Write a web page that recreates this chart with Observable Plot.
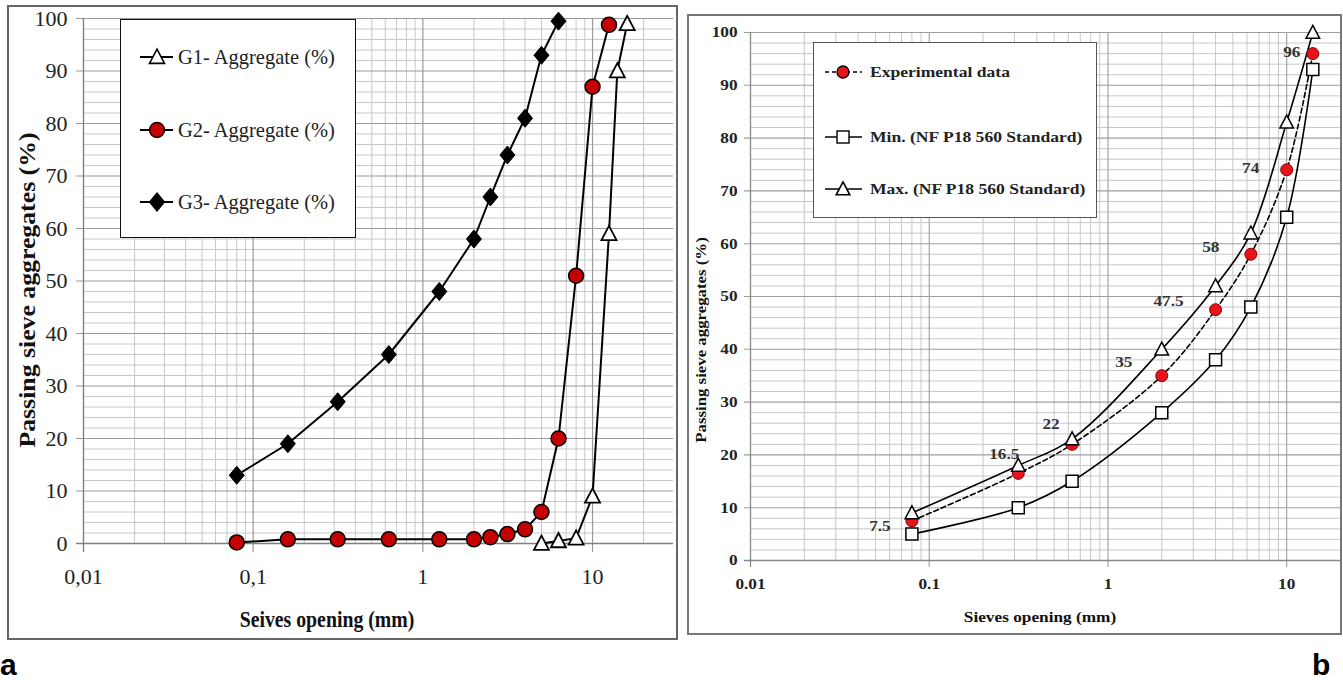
<!DOCTYPE html>
<html><head><meta charset="utf-8">
<script src="https://cdn.jsdelivr.net/npm/d3@7"></script>
<script src="https://cdn.jsdelivr.net/npm/@observablehq/plot@0.6"></script>
<style>
html,body{margin:0;padding:0;background:#fff;}
body{width:1343px;height:680px;position:relative;overflow:hidden;font-family:"Liberation Serif","Times New Roman",serif;color:#111;}
#root{position:absolute;left:0;top:0;width:1343px;height:680px;}
.frame{position:absolute;box-sizing:border-box;}
.t{position:absolute;white-space:nowrap;}
</style></head><body>
<div id="root"></div>
<script>
// ---------- DATA (chart a) ----------
const seriesA = ["G1- Aggregate (%)", "G2- Aggregate (%)", "G3- Aggregate (%)"];
const g1Sieves = [5, 6.3, 8, 10, 12.5, 14, 16];
const g1Values = [0, 0.5, 1, 9, 59, 90, 99];
const g2Sieves = [0.08, 0.16, 0.315, 0.63, 1.25, 2, 2.5, 3.15, 4, 5, 6.3, 8, 10, 12.5];
const g2Values = [0.2, 0.8, 0.8, 0.8, 0.8, 0.8, 1.2, 1.8, 2.7, 6, 20, 51, 87, 98.8];
const g3Sieves = [0.08, 0.16, 0.315, 0.63, 1.25, 2, 2.5, 3.15, 4, 5, 6.3];
const g3Values = [13, 19, 27, 36, 48, 58, 66, 74, 81, 93, 99.5];
const xTicksA = [0.01, 0.1, 1, 10];
const xTickLabelsA = ["0,01", "0,1", "1", "10"];

// ---------- DATA (chart b) ----------
const seriesB = ["Experimental data", "Min. (NF P18 560 Standard)", "Max. (NF P18 560 Standard)"];
const sievesB = [0.08, 0.315, 0.63, 2, 4, 6.3, 10, 14];
const expValues = [7.5, 16.5, 22, 35, 47.5, 58, 74, 96];
const minValues = [5, 10, 15, 28, 38, 48, 65, 93];
const maxValues = [9, 18, 23, 40, 52, 62, 83, 100];
const expLabels = ["7.5", "16.5", "22", "35", "47.5", "58", "74", "96"];
const xTicksB = [0.01, 0.1, 1, 10];
const xTickLabelsB = ["0.01", "0.1", "1", "10"];

const yTicks = [0, 10, 20, 30, 40, 50, 60, 70, 80, 90, 100];

// ---------- helpers ----------
const root = document.getElementById("root");
function rows(series, xs, ys) { return xs.map((x, i) => ({series, x, y: ys[i]})); }
function logMinor(lo, hi) {
  const out = [];
  for (let e = -3; e <= 2; e++) for (let m = 2; m <= 9; m++) {
    const v = +(m * Math.pow(10, e)).toPrecision(3);
    if (v > lo && v < hi) out.push(v);
  }
  return out;
}
const yMinor = d3.range(2, 100, 2).filter(v => v % 10 !== 0);

// custom marker shapes
const triSym = {draw(ctx, size) { const r = Math.sqrt(size / Math.PI); ctx.moveTo(0, -r * 1.05); ctx.lineTo(r, r * 0.85); ctx.lineTo(-r, r * 0.85); ctx.closePath(); }};
const diaSym = {draw(ctx, size) { const r = Math.sqrt(size / Math.PI); ctx.moveTo(0, -r * 1.2); ctx.lineTo(r, 0); ctx.lineTo(0, r * 1.2); ctx.lineTo(-r, 0); ctx.closePath(); }};
const sqSym = {draw(ctx, size) { const r = Math.sqrt(size / Math.PI); ctx.rect(-r, -r, 2 * r, 2 * r); }};

function addFrame(l, t, w, h, color, bw) {
  const d = document.createElement("div");
  d.className = "frame";
  Object.assign(d.style, {left: l + "px", top: t + "px", width: w + "px", height: h + "px", border: bw + "px solid " + color, background: "#fff"});
  root.appendChild(d);
  return d;
}
function addText(txt, l, cy, size, weight, opts = {}) {
  const d = document.createElement("div");
  d.className = "t";
  d.textContent = txt;
  const lh = Math.round(size * 1.25);
  Object.assign(d.style, {left: l + "px", top: (cy - lh / 2) + "px", fontSize: size + "px", lineHeight: lh + "px", height: lh + "px", fontWeight: weight, color: opts.color || "#111", fontFamily: opts.family || "'Liberation Serif', serif"});
  if (opts.scaleX) { d.style.transformOrigin = "left center"; d.style.transform = `scaleX(${opts.scaleX})`; }
  root.appendChild(d);
  return d;
}
function addCenteredText(txt, cx, cy, size, weight, rotate, scale) {
  const d = document.createElement("div");
  d.className = "t";
  d.textContent = txt;
  const lh = Math.round(size * 1.25);
  Object.assign(d.style, {left: cx + "px", top: cy + "px", fontSize: size + "px", lineHeight: lh + "px", fontWeight: weight, color: "#111",
    transform: `translate(-50%,-50%) rotate(${rotate}deg) scaleX(${scale})`});
  root.appendChild(d);
}
function legendSymbol(cx, cy, x1, x2, shape, dashed, sw) {
  const ns = "http://www.w3.org/2000/svg";
  const svg = document.createElementNS(ns, "svg");
  const w = x2 - x1 + 20, h = 30;
  svg.setAttribute("width", w); svg.setAttribute("height", h);
  Object.assign(svg.style, {position: "absolute", left: (x1 - 10) + "px", top: (cy - h / 2) + "px", overflow: "visible"});
  const ox = cx - (x1 - 10), oy = h / 2;
  let html = `<line x1="10" x2="${x2 - x1 + 10}" y1="${oy}" y2="${oy}" stroke="#000" stroke-width="${sw}" ${dashed ? 'stroke-dasharray="4,3"' : ""}/>`;
  if (shape.type === "tri") { const r = shape.r; html += `<path d="M${ox},${oy - r * 1.05}L${ox + r},${oy + r * 0.85}L${ox - r},${oy + r * 0.85}Z" fill="#fff" stroke="#000" stroke-width="1.6"/>`; }
  if (shape.type === "dia") { const r = shape.r; html += `<path d="M${ox},${oy - r * 1.2}L${ox + r},${oy}L${ox},${oy + r * 1.2}L${ox - r},${oy}Z" fill="#000" stroke="#000" stroke-width="1.2"/>`; }
  if (shape.type === "circ") { html += `<circle cx="${ox}" cy="${oy}" r="${shape.r}" fill="${shape.fill}" stroke="#000" stroke-width="1.3"/>`; }
  if (shape.type === "sq") { const r = shape.r; html += `<rect x="${ox - r}" y="${oy - r}" width="${2 * r}" height="${2 * r}" fill="#fff" stroke="#000" stroke-width="1.4"/>`; }
  svg.innerHTML = html;
  root.appendChild(svg);
}

// ================= CHART A =================
addFrame(7, 5, 671, 635, "#666", 2);
const rowsA1 = rows(seriesA[0], g1Sieves, g1Values);
const rowsA2 = rows(seriesA[1], g2Sieves, g2Values);
const rowsA3 = rows(seriesA[2], g3Sieves, g3Values);

const plotA = Plot.plot({
  width: 670, height: 634,
  marginLeft: 76, marginRight: 4, marginTop: 13, marginBottom: 96,
  x: {type: "log", domain: [0.01, 30], axis: null},
  y: {domain: [0, 100], axis: null},
  style: {background: "transparent", overflow: "visible", fontFamily: "'Liberation Serif', serif"},
  marks: [
    Plot.ruleY(yMinor, {stroke: "#c8c8c8", strokeWidth: 1}),
    Plot.ruleX(logMinor(0.01, 30), {stroke: "#c8c8c8", strokeWidth: 1}),
    Plot.ruleY(yTicks.filter(v => v > 0), {stroke: "#9a9a9a", strokeWidth: 1.2, insetLeft: -7}),
    Plot.ruleX(xTicksA.filter(v => v > 0.01), {stroke: "#9a9a9a", strokeWidth: 1.2, insetBottom: -9}),
    Plot.ruleY([0], {stroke: "#808080", strokeWidth: 1.4, insetLeft: -7}),
    Plot.ruleX([0.01], {stroke: "#808080", strokeWidth: 1.4, insetBottom: -9}),
    Plot.text(yTicks, {y: d => d, frameAnchor: "left", dx: -16, textAnchor: "end", text: d => String(d), fontSize: 22, fill: "#222"}),
    Plot.text(xTicksA, {x: d => d, frameAnchor: "bottom", dy: 40, text: (d, i) => xTickLabelsA[i], fontSize: 22, fill: "#222"}),
    Plot.line(rowsA3, {x: "x", y: "y", stroke: "#000", strokeWidth: 2}),
    Plot.line(rowsA2, {x: "x", y: "y", stroke: "#000", strokeWidth: 2}),
    Plot.line(rowsA1, {x: "x", y: "y", stroke: "#000", strokeWidth: 2}),
    Plot.dot(rowsA3, {x: "x", y: "y", symbol: diaSym, r: 7.5, fill: "#000", stroke: "#000", strokeWidth: 1}),
    Plot.dot(rowsA2, {x: "x", y: "y", symbol: "circle", r: 7.5, fill: "#c40000", stroke: "#000", strokeWidth: 1.5}),
    Plot.dot(rowsA1, {x: "x", y: "y", symbol: triSym, r: 7.5, fill: "#fff", stroke: "#000", strokeWidth: 1.8})
  ]
});
Object.assign(plotA.style, {position: "absolute", left: "7px", top: "5px"});
root.appendChild(plotA);

// legend A
addFrame(120, 19, 236, 219, "#111", 1.5);
legendSymbol(157, 57, 140, 173, {type: "tri", r: 7.5}, false, 2);
legendSymbol(157, 130, 140, 173, {type: "circ", r: 7.5, fill: "#c40000"}, false, 2);
legendSymbol(157, 202, 140, 173, {type: "dia", r: 7.5}, false, 2);
addText(seriesA[0], 178, 57, 22, "normal", {scaleX: 0.93, color: "#222"});
addText(seriesA[1], 178, 130, 22, "normal", {scaleX: 0.93, color: "#222"});
addText(seriesA[2], 178, 202, 22, "normal", {scaleX: 0.93, color: "#222"});

// axis titles A
addCenteredText("Seives opening (mm)", 327, 619, 23, "bold", 0, 0.86);
addCenteredText("Passing sieve aggregates (%)", 27, 290, 23, "bold", -90, 1.12);

// ================= CHART B =================
addFrame(687, 14, 655, 621, "#777", 2);
const rowsExp = rows(seriesB[0], sievesB, expValues);
const rowsMin = rows(seriesB[1], sievesB, minValues);
const rowsMax = rows(seriesB[2], sievesB, maxValues);

// per-label placement (styling, in pixels)
const labelOffsetsB = [[-32, 5], [-14, -19], [-21, -20], [-38, -14], [-47, -9], [-40, -7], [-36, -2], [-21, -1]];

const plotB = Plot.plot({
  width: 654, height: 620,
  marginLeft: 63, marginRight: 1, marginTop: 18, marginBottom: 74,
  x: {type: "log", domain: [0.01, 20], axis: null},
  y: {domain: [0, 100], axis: null},
  style: {background: "transparent", overflow: "visible", fontFamily: "'Liberation Serif', serif"},
  marks: [
    Plot.ruleY(yMinor, {stroke: "#c8c8c8", strokeWidth: 1}),
    Plot.ruleX(logMinor(0.01, 20), {stroke: "#c8c8c8", strokeWidth: 1}),
    Plot.ruleY(yTicks.filter(v => v > 0), {stroke: "#9e9e9e", strokeWidth: 1.1, insetLeft: -6}),
    Plot.ruleX(xTicksB.filter(v => v > 0.01), {stroke: "#9e9e9e", strokeWidth: 1.1, insetBottom: -7}),
    Plot.ruleY([0], {stroke: "#888", strokeWidth: 1.3, insetLeft: -6}),
    Plot.ruleX([0.01], {stroke: "#888", strokeWidth: 1.3, insetBottom: -7}),
    Plot.text(yTicks, {y: d => d, frameAnchor: "left", dx: -13, textAnchor: "end", text: d => String(d), fontSize: 15, fontWeight: "bold", fill: "#222"}),
    Plot.text(xTicksB, {x: d => d, frameAnchor: "bottom", dy: 28, text: (d, i) => xTickLabelsB[i], fontSize: 15, fontWeight: "bold", fill: "#222"}),
    Plot.line(rowsExp, {x: "x", y: "y", stroke: "#000", strokeWidth: 1.6, strokeDasharray: "5,3", curve: "catmull-rom"}),
    Plot.line(rowsMin, {x: "x", y: "y", stroke: "#000", strokeWidth: 1.6, curve: "catmull-rom"}),
    Plot.line(rowsMax, {x: "x", y: "y", stroke: "#000", strokeWidth: 1.6, curve: "catmull-rom"}),
    Plot.dot(rowsExp, {x: "x", y: "y", symbol: "circle", r: 6, fill: "#e8141c", stroke: "#8a0000", strokeWidth: 1}),
    Plot.dot(rowsMin, {x: "x", y: "y", symbol: sqSym, r: 6, fill: "#fff", stroke: "#000", strokeWidth: 1.5}),
    Plot.dot(rowsMax, {x: "x", y: "y", symbol: triSym, r: 6.8, fill: "#fff", stroke: "#000", strokeWidth: 1.5}),
    ...rowsExp.map((d, i) => Plot.text([d], {x: "x", y: "y", text: () => expLabels[i], dx: labelOffsetsB[i][0], dy: labelOffsetsB[i][1], fontSize: 15, fontWeight: "bold", fill: "#333"}))
  ]
});
Object.assign(plotB.style, {position: "absolute", left: "687px", top: "14px"});
// widen text slightly to match the reference's stretched lettering
plotB.querySelectorAll("text").forEach(t => {
  const tr = t.getAttribute("transform");
  if (tr) t.setAttribute("transform", tr + " scale(1.15,1)");
});
root.appendChild(plotB);

// legend B
addFrame(813, 42, 284, 176, "#555", 1.5);
legendSymbol(843, 72, 825, 862, {type: "circ", r: 6, fill: "#e8141c"}, true, 1.5);
legendSymbol(843, 137, 825, 862, {type: "sq", r: 6}, false, 1.5);
legendSymbol(843, 189, 825, 862, {type: "tri", r: 6.8}, false, 1.5);
addText(seriesB[0], 870, 72, 15, "bold", {scaleX: 1.17, color: "#222"});
addText(seriesB[1], 870, 137, 15, "bold", {scaleX: 1.17, color: "#222"});
addText(seriesB[2], 870, 189, 15, "bold", {scaleX: 1.17, color: "#222"});

// axis titles B
addCenteredText("Sieves opening (mm)", 1040, 617, 15, "bold", 0, 1.15);
addCenteredText("Passing sieve aggregates (%)", 701, 340, 15, "bold", -90, 1.12);

// panel letters
addText("a", 0, 665, 30, "bold", {family: "'Liberation Sans', Arial, sans-serif", color: "#000"});
addText("b", 1312, 665, 30, "bold", {family: "'Liberation Sans', Arial, sans-serif", color: "#000"});
</script>
</body></html>
